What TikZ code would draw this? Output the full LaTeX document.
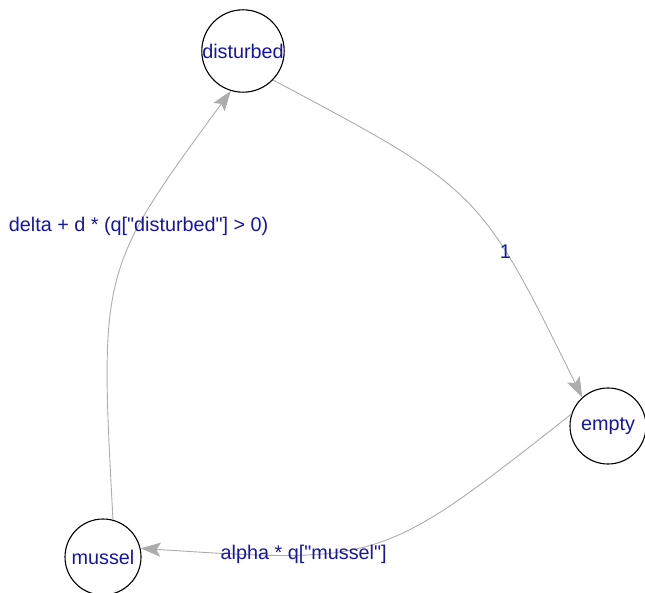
\documentclass[tikz,border=0pt]{standalone}
\usepackage{fontspec}
\setmainfont{Liberation Sans}
\usetikzlibrary{arrows.meta}
\definecolor{labblue}{RGB}{22,22,165}
\definecolor{edgegray}{RGB}{172,172,172}
% straight double quote
\newcommand{\dq}{\textquotedbl}
\begin{document}
\begin{tikzpicture}[x=1pt,y=-1pt,
  state/.style={circle,draw=black,line width=1.1pt,fill=white,
    minimum size=76pt,inner sep=0pt,text=labblue,
    font=\fontsize{19.8}{22}\selectfont},
  edge/.style={draw=edgegray,line width=0.9pt,
    -{Stealth[length=20pt,width=14pt,inset=4pt,fill=edgegray]}},
  lab/.style={text=labblue,inner sep=0pt,
    font=\fontsize{19.8}{22}\selectfont}]
\useasboundingbox (0,0) rectangle (645,593);

% states
\node[state] (dist)   at (243,51)  {disturbed};
\node[state] (empty)  at (608,426) {empty};
\node[state] (mussel) at (103,557) {mussel};

% transitions
\draw[edge] (dist.-44) .. controls (480,190) .. (empty.132)
  node[lab,pos=0.68] (l1) {1};
\draw[edge] (empty.162) .. controls (381,564) .. (mussel.13)
  node[lab,pos=0.7] (l2) {alpha * q[\dq mussel\dq]};
\draw[edge] (mussel.75) .. controls (99.5,270) .. (dist.-107)
  node[lab,pos=0.665] (l3) {delta + d * (q[\dq disturbed\dq] > 0)};
\end{tikzpicture}
\end{document}
